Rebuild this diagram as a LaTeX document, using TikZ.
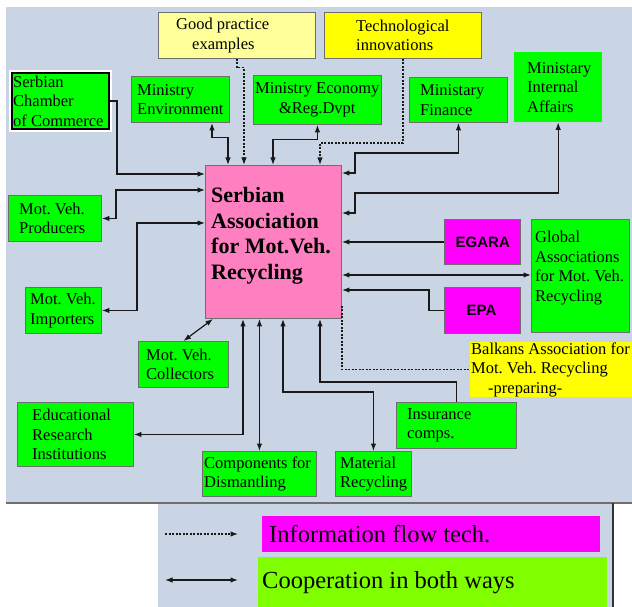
\documentclass[tikz,border=0pt]{standalone}
\usepackage{fontspec}
\setmainfont{Liberation Serif}
\newfontfamily\sansfnt{Liberation Sans}
\usetikzlibrary{arrows.meta,calc}
\definecolor{bgc}{RGB}{201,213,229}
\definecolor{gbox}{RGB}{0,255,0}
\definecolor{pbox}{RGB}{255,128,192}
\definecolor{lyel}{RGB}{255,255,153}
\definecolor{yel}{RGB}{255,255,0}
\definecolor{mag}{RGB}{255,0,255}
\definecolor{lgreen}{RGB}{128,255,0}
\definecolor{bord}{RGB}{110,110,110}
\definecolor{linec}{RGB}{25,25,25}
% name, x1, y1, x2, y2, pad, box style, text style, text
\newcommand{\bx}[9]{%
  \pgfmathsetmacro\bw{#4-#2}\pgfmathsetmacro\bh{#5-#3}%
  \node[#7, minimum width=\bw pt, minimum height=\bh pt, inner sep=0pt,
        anchor=north west] (#1) at (#2,#3) {};
  \node[#8, inner sep=0pt, anchor=west] (#1-t) at ([xshift=#6pt]#1.west) {#9};}
\tikzset{
  txt/.style={font=\fontsize{16.5}{19.5}\selectfont, align=left},
  bordered/.style={draw=bord, line width=0.9pt},
  grn/.style={fill=gbox, bordered},
  grnnb/.style={fill=gbox},
  lyelbox/.style={fill=lyel, bordered},
  yelbox/.style={fill=yel, bordered},
  yelnb/.style={fill=yel},
  chambox/.style={fill=gbox, draw=black, line width=2pt,
     preaction={draw=white, line width=5.5pt}},
  mainbox/.style={fill=pbox, bordered},
  maintxt/.style={align=left, font=\fontsize{22}{25.5}\selectfont\bfseries},
  magbox/.style={fill=mag, bordered},
  magtxt/.style={font=\sansfnt\bfseries\fontsize{15}{18}\selectfont},
  legmag/.style={fill=mag},
  leggrn/.style={fill=lgreen},
  legtxt/.style={font=\fontsize{24.5}{28}\selectfont, align=left},
  conn/.style={draw=linec, line width=1.2pt},
  tip/.tip={Latex[length=7.5pt,width=5.5pt]},
  arrone/.style={conn, -tip},
  arrtwo/.style={conn, tip-tip},
  dotl/.style={conn, dash pattern=on 2pt off 1.5pt},
  dotarr/.style={dotl, -tip}
}
\begin{document}
\frenchspacing
\begin{tikzpicture}[x=1pt,y=-1pt]
\useasboundingbox (0,0) rectangle (632,607);
% backgrounds
\fill[bgc] (6,7) rectangle (632,503);
\draw[bord, line width=1.5pt] (6,503) -- (632,503);
\fill[bgc] (158,504) rectangle (613,607);
\draw[black!80, line width=1.5pt] (613,503) -- (613,607);

% top boxes
\bx{good}{158}{12}{315}{58}{18}{lyelbox}{txt}{Good practice\\\hspace*{16pt}examples}
\bx{tech}{324}{12}{481}{58}{32}{yelbox}{txt}{Technological\\innovations}
\bx{cham}{11}{72}{108}{128}{2}{chambox}{txt}{Serbian\\Chamber\\of Commerce}
\bx{env}{131}{76}{229}{122}{6}{grn}{txt}{Ministry\\Environment}
\bx{eco}{253}{75}{381}{124}{2}{grn}{txt, align=center}{Ministry Economy\\\&Reg.Dvpt}
\bx{fin}{409}{77}{507}{122}{11}{grn}{txt}{Ministary\\Finance}
\bx{intl}{514}{52}{602}{122}{13}{grnnb}{txt}{Ministary\\Internal\\Affairs}

% main
\bx{main}{205}{165}{341}{318}{6}{mainbox}{maintxt, yshift=6pt}{Serbian\\Association\\for Mot.Veh.\\Recycling}

% left boxes
\bx{prod}{8}{195}{101}{241}{11}{grn}{txt}{Mot. Veh.\\Producers}
\bx{imp}{25}{287}{101}{333}{5}{grn}{txt}{Mot. Veh.\\Importers}
\bx{coll}{138}{341}{228}{387}{8}{grn}{txt}{Mot. Veh.\\Collectors}
\bx{edu}{17}{402}{133}{466}{15}{grn}{txt}{Educational\\Research\\Institutions}
\bx{comp}{202}{451}{316}{496}{2}{grn}{txt}{Components for\\Dismantling}
\bx{mat}{335}{451}{411}{496}{5}{grn}{txt}{Material\\Recycling}
\bx{ins}{396}{402}{516}{448}{11}{grn}{txt}{Insurance\\comps.}

% right boxes
\bx{egara}{444}{219}{520}{264}{11.5}{magbox}{magtxt}{EGARA}
\bx{epa}{444}{287}{520}{333}{22.5}{magbox}{magtxt}{EPA}
\bx{glob}{531}{219}{629}{332}{4}{grn}{txt, yshift=8pt}{Global\\Associations\\for Mot. Veh.\\Recycling}
\bx{balk}{470}{342}{632}{397}{1}{yelnb}{txt}{Balkans Association for\\Mot. Veh. Recycling\\\hspace*{17pt}-preparing-}

% connectors
\draw[arrone] (cham.east) -- ++(7,0) |- (main.west |- 0,174);
\draw[arrtwo] (prod.east) -- ++(14,0) |- (main.west |- 0,190);
\draw[arrtwo] (imp.east) -- ++(35,0) |- (main.west |- 0,223);
\draw[arrtwo] (coll.north) -- ($(main.south west)+(8,0)$);
\draw[arrtwo] (edu.east) -| ($(main.south west)+(38,0)$);
\draw[arrtwo] (main.south -| comp.north) -- (comp.north);
\draw[arrtwo] ($(main.south west)+(78,0)$) -- ++(0,73) -| (mat.north);
\draw[arrone] (ins.north) -- ++(0,-20) -| ($(main.south west)+(115,0)$);
\draw[dotl] ($(main.south east)+(0,-13)$) |- (balk.west);
\draw[arrone] (egara.west) -- (main.east |- egara.west);
\draw[arrtwo] (main.east |- 0,275) -- (glob.west |- 0,275);
\draw[arrone] (epa.west) -- ++(-15,0) |- (main.east |- 0,290);
\draw[arrtwo] (intl.south) |- (355,193) |- (main.east |- 0,213);
\draw[arrtwo] (fin.south) |- (355,153) |- (main.east |- 0,173);
\draw[dotarr] (tech.south) |- ($(main.north west)+(115,-22)$) -- ($(main.north west)+(115,0)$);
\draw[dotarr] (good.south) -- ++(0,9) -| ($(main.north west)+(39,0)$);
\draw[arrtwo] ($(env.south west)+(81,0)$) -- ++(0,15) -| ($(main.north west)+(23,0)$);
\draw[arrtwo] (eco.south) -- ++(0,15) -| ($(main.north west)+(68,0)$);

% legend
\bx{leginfo}{262}{516}{600}{552}{7}{legmag}{legtxt}{Information flow tech.}
\bx{legcoop}{258}{557}{607}{607}{4}{leggrn}{legtxt}{Cooperation in both ways}
\coordinate (l1a) at (165,534);
\coordinate (l1b) at (238,534);
\coordinate (l2a) at (165,580);
\coordinate (l2b) at (238,580);
\draw[dotarr] (l1a) -- (l1b);
\draw[arrtwo] (l2a) -- (l2b);
\end{tikzpicture}
\end{document}
